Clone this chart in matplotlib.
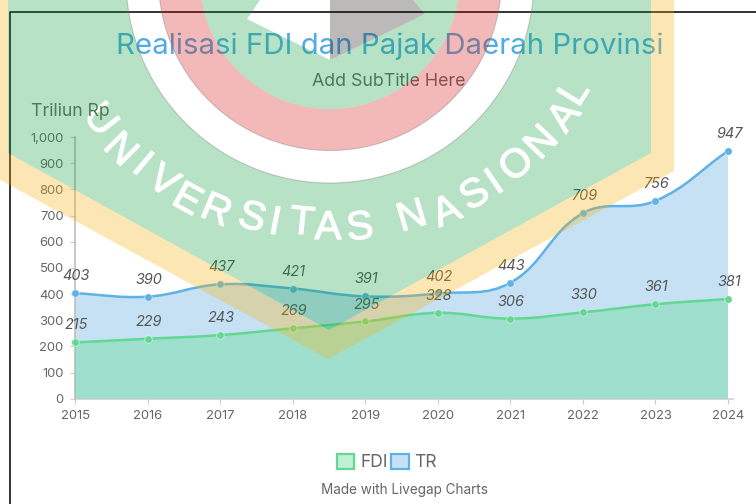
import numpy as np
import matplotlib
matplotlib.use("Agg")
import matplotlib.pyplot as plt
import matplotlib.patheffects as pe
from matplotlib.path import Path
from matplotlib.patches import PathPatch, Patch
from matplotlib.lines import Line2D

plt.rcParams['font.family'] = ['Inter', 'DejaVu Sans']

# ---- data ----
years = [2015, 2016, 2017, 2018, 2019, 2020, 2021, 2022, 2023, 2024]
fdi = [215, 229, 243, 269, 295, 328, 306, 330, 361, 381]
tr = [403, 390, 437, 421, 391, 402, 443, 709, 756, 947]
y_ticks = [0, 100, 200, 300, 400, 500, 600, 700, 800, 900, 1000]
title = "Realisasi FDI dan Pajak Daerah Provinsi"
subtitle = "Add SubTitle Here"
y_unit = "Triliun Rp"
footer = "Made with Livegap Charts"
watermark_letters = list("UNIVERSITASNASIONAL")
watermark_xy = [(100, 120), (120, 150), (142, 165), (163, 182), (187, 200), (216, 211),
                (252, 218), (275, 223), (302, 223), (328, 228), (360, 228),
                (412, 217), (447, 212), (475, 195), (495, 183), (517, 165),
                (542, 143), (565, 117), (575, 93)]

W, H = 756, 504
GREY = '#666666'
BLUE = '#5eb2e6'
GREEN = '#62d892'
BLUE_FILL = (94/255, 170/255, 226/255, .35)
GREEN_FILL = (100/255, 222/255, 150/255, .40)

fig = plt.figure(figsize=(W/100, H/100), dpi=100)
fig.patch.set_facecolor('white')

# plot area in pixels
x0, x1, y_top, y_bot = 75, 733, 137, 398.7
ax = fig.add_axes([x0/W, 1-y_bot/H, (x1-x0)/W, (y_bot-y_top)/H])
px_per_year = (728-75)/9
ax.set_xlim(2015, 2015+(x1-x0)/px_per_year)
ax.set_ylim(0, 1000)
px_per_unit = (y_bot-y_top)/1000


def spline_path(xs, ys, tension=0.4):
    """Chart.js style bezier spline through the points, in data coordinates."""
    xs = np.asarray(xs, float)
    ys = np.asarray(ys, float)
    sx, sy = px_per_year, px_per_unit
    verts = [(xs[0], ys[0])]
    codes = [Path.MOVETO]
    n = len(xs)
    cp_out, cp_in = [None]*n, [None]*n
    for i in range(n):
        pi, ni = max(i-1, 0), min(i+1, n-1)
        d01 = np.hypot((xs[i]-xs[pi])*sx, (ys[i]-ys[pi])*sy)
        d12 = np.hypot((xs[ni]-xs[i])*sx, (ys[ni]-ys[i])*sy)
        tot = d01+d12
        fa, fb = tension*d01/tot, tension*d12/tot
        dx, dy = xs[ni]-xs[pi], ys[ni]-ys[pi]
        cp_in[i] = (xs[i]-fa*dx, ys[i]-fa*dy)
        cp_out[i] = (xs[i]+fb*dx, ys[i]+fb*dy)
    for i in range(n-1):
        verts += [cp_out[i], cp_in[i+1], (xs[i+1], ys[i+1])]
        codes += [Path.CURVE4]*3
    return verts, codes


for vals, fill, col, z in [(tr, BLUE_FILL, BLUE, 2), (fdi, GREEN_FILL, GREEN, 3)]:
    v, c = spline_path(years, vals)
    ax.add_patch(PathPatch(Path(v + [(years[-1], 0), (years[0], 0), v[0]],
                                c + [Path.LINETO, Path.LINETO, Path.CLOSEPOLY]),
                           fc=fill, ec='none', zorder=z))
    ax.add_patch(PathPatch(Path(v, c), fc='none', ec=col, lw=1.8, zorder=z+2))
    ax.plot(years, vals, ls='none', marker='o', ms=5.4, mfc=col, mec=(1, 1, 1, .55), mew=.6,
            zorder=z+3, clip_on=False)
    for xv, yv in zip(years, vals):
        ax.annotate(str(yv), (xv, yv), xytext=(.8, 12.2), textcoords='offset points',
                    ha='center', va='center', fontsize=10.4, style='italic', color='#555555',
                    zorder=8, annotation_clip=False)

for s in ['top', 'right']:
    ax.spines[s].set_visible(False)
ax.spines['bottom'].set_color('#cccccc')
ax.spines['left'].set_color('#b8b8b8')
ax.spines['bottom'].set_linewidth(1.1)
ax.spines['left'].set_linewidth(1.1)
ax.set_xticks(years)
ax.set_yticks(y_ticks)
ax.set_yticklabels([f"{t:,}" for t in y_ticks])
ax.tick_params(axis='both', length=3.6, width=.8, color='#cccccc', labelcolor=GREY, labelsize=9.4)
ax.tick_params(axis='y', pad=4.6)
ax.tick_params(axis='x', pad=4.2)
ax.patch.set_alpha(0)

# frame
fig.add_artist(Line2D([9.5/W, 9.5/W, 1], [0, 1-12/H, 1-12/H], color='#111111', lw=1.2))

# titles
fig.text(389.5/W, 1-46/H, title, ha='center', va='center', fontsize=21.2, color='#4facE4')
fig.text(389/W, 1-81/H, subtitle, ha='center', va='center', fontsize=12.8, color=GREY)
fig.text(404/W, 1-490/H, footer, ha='center', va='center', fontsize=9.75, color=GREY)

# legend
leg = fig.legend(handles=[Patch(fc=GREEN_FILL, ec=GREEN, lw=1.6, label='FDI'),
                          Patch(fc=BLUE_FILL, ec=BLUE, lw=1.6, label='TR')],
                 loc='center', bbox_to_anchor=(387/W, 1-462.5/H), ncol=2, frameon=False,
                 fontsize=12.6, labelcolor=GREY, handlelength=1.0, handleheight=1.0,
                 handletextpad=.32, columnspacing=.22, borderpad=0)

# watermark overlay (pixel coordinates)
wm = fig.add_axes([0, 0, 1, 1], zorder=10)
wm.set_xlim(0, W)
wm.set_ylim(H, 0)
wm.axis('off')
wm.patch.set_alpha(0)
cx, cy = 330, -21


def poly(pts, reverse=False):
    pts = np.asarray(pts, float)
    if reverse:
        pts = pts[::-1]
    pts = np.vstack([pts, pts[0]])
    codes = [Path.MOVETO]+[Path.LINETO]*(len(pts)-2)+[Path.CLOSEPOLY]
    return Path(pts, codes)


def circle(r, reverse=False):
    t = np.linspace(0, 2*np.pi, 360, endpoint=False)
    return poly(np.c_[cx+r*np.cos(t), cy+r*np.sin(t)], reverse)


yellow_out = [(-16, -60), (674, -60), (674, 171), (328, 359), (-16, 171)]
green_out = [(8, -60), (651, -60), (651, 153), (329, 330), (8, 153)]
star = [(330, -40), (260, 0), (247, 19), (330, 60), (425, 14), (413, 0)]
grey_half = [(330, -40), (330, 60), (425, 14), (413, 0)]


def ccw(pts):
    # shoelace sign helper keeps the outer and the hole opposite
    p = np.asarray(pts, float)
    a = np.sum(p[:, 0]*np.roll(p[:, 1], -1)-np.roll(p[:, 0], -1)*p[:, 1])
    return p if a > 0 else p[::-1]


def add(paths, color):
    wm.add_patch(PathPatch(Path.make_compound_path(*paths), fc=color, ec='none'))


YEL = (248/255, 178/255, 8/255, .30)
GRN = (18/255, 161/255, 65/255, .30)
RED = (215/255, 25/255, 20/255, .30)
GRY = (35/255, 28/255, 22/255, .30)
add([poly(ccw(yellow_out)), poly(ccw(green_out)[::-1])], YEL)
add([poly(ccw(green_out)), circle(204, True)], GRN)
add([circle(171.5), circle(130, True)], RED)
add([circle(130), poly(ccw(star)[::-1])], GRN)
wm.add_patch(PathPatch(poly(grey_half), fc=GRY, ec='none'))
for r in (204, 171.5):
    wm.add_patch(PathPatch(circle(r), fc='none', ec=(.45, .45, .45, .35), lw=.8))

for ch, (lx, ly) in zip(watermark_letters, watermark_xy):
    rot = np.degrees(np.arctan2(lx-330, ly+60))
    wm.text(lx, ly, ch, ha='center', va='center', rotation=rot, rotation_mode='anchor',
            fontsize=29, family='Liberation Sans', color='white',
            path_effects=[pe.withStroke(linewidth=.9, foreground='white')])

fig.text(70.5/W, 1-111/H, y_unit, ha='center', va='center', fontsize=12.7, color='#4d785b', zorder=12)

fig.savefig('out.png', dpi=100)
